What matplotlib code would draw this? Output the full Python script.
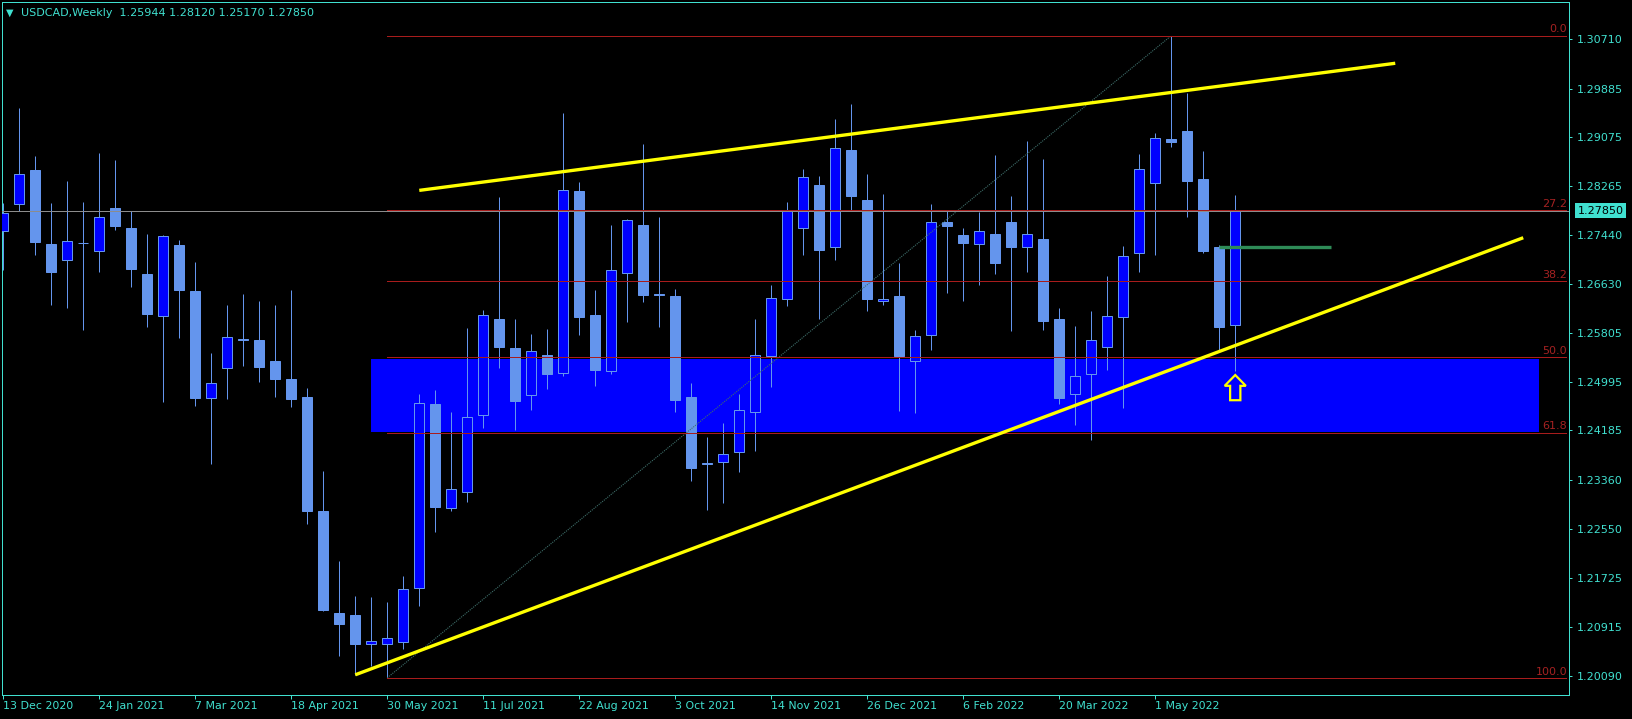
import numpy as np
import pandas as pd
import matplotlib
matplotlib.use('Agg')
import matplotlib.pyplot as plt
import matplotlib.transforms as mtransforms
from matplotlib.patches import Rectangle, Polygon

# USDCAD weekly bars, first bar = week of 13 Dec 2020
first_week = '2020-12-13'
opens = [1.2752, 1.2797, 1.2853, 1.2730, 1.2703, 1.2732, 1.2718, 1.2790, 1.2756, 1.2680,
         1.2610, 1.2728, 1.2651, 1.2473, 1.2522, 1.2571, 1.2569, 1.2534, 1.2504, 1.2474,
         1.2284, 1.2114, 1.2111, 1.2062, 1.2062, 1.2066, 1.2156, 1.2463, 1.2290, 1.2316,
         1.2444, 1.2604, 1.2556, 1.2477, 1.2544, 1.2514, 1.2818, 1.2611, 1.2517, 1.2681,
         1.2761, 1.2646, 1.2643, 1.2474, 1.2364, 1.2366, 1.2383, 1.2449, 1.2542, 1.2638,
         1.2757, 1.2828, 1.2725, 1.2886, 1.2803, 1.2634, 1.2643, 1.2534, 1.2577, 1.2766,
         1.2745, 1.2730, 1.2746, 1.2766, 1.2725, 1.2738, 1.2605, 1.2480, 1.2512, 1.2558,
         1.2607, 1.2715, 1.2832, 1.2905, 1.2918, 1.2838, 1.2725, 1.25944]
highs = [1.2798, 1.2956, 1.2876, 1.2798, 1.2835, 1.2800, 1.2881, 1.2870, 1.2785, 1.2746,
         1.2745, 1.2736, 1.2700, 1.2548, 1.2628, 1.2646, 1.2634, 1.2628, 1.2653, 1.2489,
         1.2351, 1.2201, 1.2142, 1.2141, 1.2132, 1.2176, 1.2479, 1.2486, 1.2449, 1.2589,
         1.2619, 1.2808, 1.2605, 1.2579, 1.2588, 1.2948, 1.2833, 1.2653, 1.2761, 1.2771,
         1.2896, 1.2775, 1.2655, 1.2498, 1.2408, 1.2431, 1.2479, 1.2604, 1.2661, 1.2800,
         1.2855, 1.2843, 1.2938, 1.2963, 1.2846, 1.2813, 1.2698, 1.2586, 1.2796, 1.2786,
         1.2756, 1.2783, 1.2878, 1.2810, 1.2901, 1.2871, 1.2623, 1.2593, 1.2618, 1.2676,
         1.2726, 1.2880, 1.2915, 1.3077, 1.2981, 1.2885, 1.2728, 1.28120]
lows = [1.2686, 1.2785, 1.2711, 1.2628, 1.2623, 1.2586, 1.2683, 1.2753, 1.2658, 1.2591,
        1.2466, 1.2573, 1.2459, 1.2363, 1.2471, 1.2526, 1.2499, 1.2474, 1.2458, 1.2263,
        1.2117, 1.2042, 1.2011, 1.2026, 1.2006, 1.2054, 1.2126, 1.2249, 1.2284, 1.2299,
        1.2423, 1.2523, 1.2419, 1.2452, 1.2487, 1.2510, 1.2577, 1.2492, 1.2512, 1.2599,
        1.2632, 1.2591, 1.2449, 1.2334, 1.2286, 1.2298, 1.2349, 1.2384, 1.2491, 1.2626,
        1.2711, 1.2605, 1.2703, 1.2785, 1.2618, 1.2628, 1.2451, 1.2448, 1.2553, 1.2648,
        1.2635, 1.2661, 1.2680, 1.2584, 1.2683, 1.2586, 1.2463, 1.2428, 1.2403, 1.2519,
        1.2456, 1.2683, 1.2711, 1.2892, 1.2775, 1.2715, 1.2551, 1.25170]
closes = [1.2781, 1.2846, 1.2733, 1.2683, 1.2734, 1.2731, 1.2775, 1.2760, 1.2688, 1.2613,
          1.2743, 1.2653, 1.2473, 1.2497, 1.2574, 1.2570, 1.2524, 1.2504, 1.2471, 1.2285,
          1.2119, 1.2096, 1.2062, 1.2067, 1.2072, 1.2154, 1.2464, 1.2291, 1.2321, 1.2441,
          1.2611, 1.2558, 1.2468, 1.2551, 1.2512, 1.2819, 1.2608, 1.2520, 1.2687, 1.2770,
          1.2645, 1.2645, 1.2469, 1.2356, 1.2363, 1.2379, 1.2453, 1.2544, 1.2640, 1.2786,
          1.2841, 1.2720, 1.2889, 1.2810, 1.2638, 1.2638, 1.2543, 1.2576, 1.2766, 1.2760,
          1.2731, 1.2752, 1.2698, 1.2725, 1.2747, 1.2601, 1.2473, 1.2509, 1.2569, 1.2609,
          1.2710, 1.2855, 1.2906, 1.2899, 1.2835, 1.2718, 1.2591, 1.27850]
# closes[5], [15], [41], [44] are near doji

price_ticks = [1.30710, 1.29885, 1.29075, 1.28265, 1.27440, 1.26630, 1.25805,
               1.24995, 1.24185, 1.23360, 1.22550, 1.21725, 1.20915, 1.20090]
fib_levels = [0.0, 27.2, 38.2, 50.0, 61.8, 100.0]

# drawn objects on the chart (bar index, price)
zone = (23, 96, 1.2416, 1.2538)
upper_trend = [(26, 87), (1.2819, 1.3031)]
lower_trend = [(22, 95), (1.2011, 1.2740)]
green_level = [(76, 83), (1.2724, 1.2724)]

FG = '#40E0D0'
BULL = '#0000FF'
BEAR = '#6495ED'
PX = 0.72  # one pixel in points

o = np.array(opens); h = np.array(highs); l = np.array(lows); c = np.array(closes)
x = np.arange(len(o))
dates = pd.date_range(first_week, periods=len(o), freq='W-SUN')

fig = plt.figure(figsize=(16.33, 7.19), dpi=100, facecolor='black')
ax = fig.add_axes([2/1633, 1 - 695/719, 1567/1633, 693/719])
ax.set_facecolor('black')

# support zone
ax.add_patch(Rectangle((zone[0], zone[2]), zone[1] - zone[0], zone[3] - zone[2],
                       facecolor='#0000FF', edgecolor='none', zorder=1))

# candles
up = c >= o
ax.vlines(x, l, h, color=BEAR, lw=PX, zorder=2)
body_lo = np.minimum(o, c)
body_h = np.maximum(np.abs(c - o), 0.00004)
ax.bar(x[up], body_h[up], bottom=body_lo[up], width=0.64,
       color=BULL, edgecolor=BEAR, linewidth=PX, zorder=3)
ax.bar(x[~up], body_h[~up], bottom=body_lo[~up], width=0.64,
       color=BEAR, edgecolor=BEAR, linewidth=PX, zorder=3)

# fibonacci retracement
i_lo = int(np.argmin(l)); i_hi = int(np.argmax(h))
lo, hi = l[i_lo], h[i_hi]
ax.plot([i_lo, i_hi], [lo, hi], color='#3e6e6a', lw=0.8, ls=(0, (1, 1)), zorder=4)
right_tr = mtransforms.blended_transform_factory(ax.transAxes, ax.transData)
for lv in fib_levels:
    p = hi - lv / 100 * (hi - lo)
    ax.plot([i_lo, 97.7], [p, p], color='#A81C1C', lw=PX, zorder=4)
    ax.text(0.9987, p + 0.0002, f'{lv:.1f}', transform=right_tr, ha='right', va='bottom',
            color='#A52222', fontsize=8, zorder=6)

# current price line
ax.axhline(c[-1], color='#8c8c8c', lw=PX, zorder=4)

# trend lines and level
ax.plot(upper_trend[0], upper_trend[1], color='#FFFF00', lw=2.4, zorder=5,
        solid_capstyle='butt')
ax.plot(lower_trend[0], lower_trend[1], color='#FFFF00', lw=2.4, zorder=5,
        solid_capstyle='butt')
ax.plot(green_level[0], green_level[1], color='#2E8B57', lw=2.4, zorder=5,
        solid_capstyle='butt')

# up arrow under the last bar
ax_ = x[-1]
tip = l[-1] - 0.0006
arrow = [(ax_, tip), (ax_ + 0.66, tip - 0.0018), (ax_ + 0.32, tip - 0.0018),
         (ax_ + 0.32, tip - 0.0042), (ax_ - 0.32, tip - 0.0042),
         (ax_ - 0.32, tip - 0.0018), (ax_ - 0.66, tip - 0.0018)]
ax.add_patch(Polygon(arrow, closed=True, fill=False, edgecolor='#FFFF00',
                     lw=1.6, joinstyle='miter', zorder=6))

ax.set_xlim(-0.08, 97.86)
ax.set_ylim(1.19773, 1.31332)

for s in ax.spines.values():
    s.set_color(FG)
    s.set_linewidth(PX)

ax.yaxis.tick_right()
ax.set_yticks(price_ticks)
ax.set_yticklabels([f'{v:.5f}' for v in price_ticks])
ax.tick_params(axis='y', colors=FG, labelsize=8, length=2.2, width=PX, pad=3.4)

xt = x[::6]
ax.set_xticks(xt)
ax.set_xticklabels([f'{d.day} {d.strftime("%b %Y")}' for d in dates[::6]],
                   ha='left')
ax.tick_params(axis='x', colors=FG, labelsize=7.9, length=3, width=PX, pad=1.5)

# last price label on the axis
ax.annotate(f'{c[-1]:.5f}', xy=(1, c[-1]), xycoords=('axes fraction', 'data'),
            xytext=(6.0, 0), textcoords='offset points', ha='left', va='center',
            color='black', fontsize=8,
            bbox=dict(boxstyle='square,pad=0.22', fc=FG, ec='none'),
            annotation_clip=False, zorder=10)

# header
fig.text(6/1633, 1 - 13/719, '▼', color=FG, fontsize=7, va='center')
fig.text(21/1633, 1 - 13/719,
         f'USDCAD,Weekly  {o[-1]:.5f} {h[-1]:.5f} {l[-1]:.5f} {c[-1]:.5f}',
         color=FG, fontsize=8, va='center')

fig.savefig('out.png', dpi=100, facecolor='black')
